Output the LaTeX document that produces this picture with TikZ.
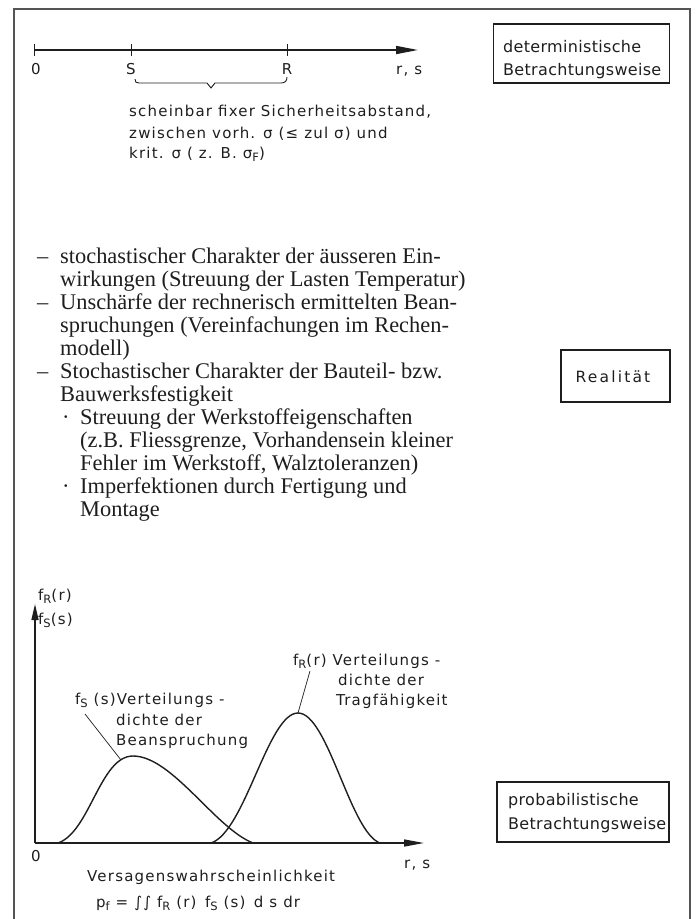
\documentclass[tikz,border=0pt]{standalone}
\usepackage{fontspec}
\setmainfont{Liberation Serif}
\newfontfamily\din[LetterSpace=8]{DejaVu Sans}
\newfontfamily\dinbox[LetterSpace=2]{DejaVu Sans}
\newfontfamily\dinwide[LetterSpace=14]{DejaVu Sans}
\usetikzlibrary{arrows.meta}
\definecolor{ink}{HTML}{1E1E1E}
\definecolor{framec}{HTML}{555555}
\newcommand\dsub[1]{\raisebox{-0.45ex}{\fontsize{11.5}{11.5}\selectfont #1}}
\begin{document}
\begin{tikzpicture}[x=1pt,y=-1pt,
  lbl/.style={inner sep=0pt, anchor=base west, text=ink, font=\din\fontsize{15}{18}\selectfont},
  clbl/.style={lbl, anchor=base},
  btxt/.style={inner sep=0pt, anchor=base west, text=ink, font=\dinbox\fontsize{16}{19}\selectfont},
  ser/.style={inner sep=0pt, anchor=base west, text=ink, font=\fontsize{22.4}{23}\selectfont},
  bx/.style={draw=ink, line width=1.1pt, inner sep=0pt},
  outer/.style={draw=framec, line width=1.3pt},
  axis/.style={draw=ink, line width=1.6pt},
  tick/.style={draw=ink, line width=1pt},
  curve/.style={draw=ink, line width=1.4pt},
  leader/.style={draw=ink, line width=0.7pt},
  thin/.style={draw=ink, line width=0.9pt}]
\useasboundingbox (0,0) rectangle (696,919);
% outer frame (open at the bottom)
\draw[outer] (14,919) -- (14,9) -- (690,9) -- (690,919);

% ---------- deterministic part ----------
\coordinate (o1) at (34,50);
\coordinate (e1) at (418,50);
\draw[axis, -{Triangle[length=22pt,width=8pt]}] (o1) -- (e1);
\draw[tick] (34,44) -- (34,56);
\draw[tick] (131,44) -- (131,56);
\draw[tick] (287,44) -- (287,56);
\node[clbl] (l0) at (36,74) {0};
\node[clbl] (lS) at (131,74) {S};
\node[clbl] (lR) at (287,74) {R};
\node[lbl] (lrs) at (396,74) {r, s};
% brace
\draw[thin] (135,79) .. controls (135,82) and (136,83) .. (139,83) -- (207,83) -- (211,88) -- (215,83) -- (281,83) .. controls (285,83) and (287,81) .. (287,77);
\node[lbl] (n1) at (129,116) {scheinbar fixer Sicherheitsabstand,};
\node[lbl] (n2) at (129,138) {zwischen vorh. σ (≤ zul σ) und};
\node[lbl] (n3) at (129,158) {krit. σ ( z. B. σ\dsub{F})};

\node[bx, minimum width=176pt, minimum height=59pt] (detbox) at (581.5,53.5) {};
\node[btxt] (det1) at (503,52) {deterministische};
\node[btxt] (det2) at (503,75) {Betrachtungsweise};

% ---------- reality ----------
\node[ser] (d1) at (37,263) {–};
\node[ser] (t1) at (60,263) {stochastischer Charakter der äusseren Ein-};
\node[ser] (t2) at (60,286) {wirkungen (Streuung der Lasten Temperatur)};
\node[ser] (d2) at (37,309) {–};
\node[ser] (t3) at (60,309) {Unschärfe der rechnerisch ermittelten Bean-};
\node[ser] (t4) at (60,332) {spruchungen (Vereinfachungen im Rechen-};
\node[ser] (t5) at (60,355) {modell)};
\node[ser] (d3) at (37,378) {–};
\node[ser] (t6) at (60,378) {Stochastischer Charakter der Bauteil- bzw.};
\node[ser] (t7) at (60,401) {Bauwerksfestigkeit};
\node[ser] (b1) at (62,424) {·};
\node[ser] (t8) at (80,424) {Streuung der Werkstoffeigenschaften};
\node[ser] (t9) at (80,447) {(z.B. Fliessgrenze, Vorhandensein kleiner};
\node[ser] (t10) at (80,470) {Fehler im Werkstoff, Walztoleranzen)};
\node[ser] (b2) at (62,493) {·};
\node[ser] (t11) at (80,493) {Imperfektionen durch Fertigung und};
\node[ser] (t12) at (80,516) {Montage};

\node[bx, minimum width=109pt, minimum height=52pt] (realbox) at (615.5,376) {};
\node[inner sep=0pt, anchor=base, text=ink, font=\dinwide\fontsize{15.5}{18}\selectfont] (real) at (613,382) {Realität};

% ---------- probabilistic part ----------
\coordinate (o2) at (35,843);
\coordinate (ytip) at (35,604);
\coordinate (xtip) at (424,843);
\draw[axis, line width=1.4pt, -{Triangle[length=16pt,width=7pt]}] (o2) -- (ytip);
\draw[axis, line width=1.4pt, -{Triangle[length=20pt,width=7pt]}] (o2) -- (xtip);
\node[lbl] (fr) at (38,600) {f\dsub{R}(r)};
\node[lbl] (fs) at (38,624) {f\dsub{S}(s)};
\node[clbl] (l00) at (36,861) {0};
\node[lbl] (lrs2) at (404,868) {r, s};

% S curve
\coordinate (s0) at (58,843);
\coordinate (spk) at (133,756);
\coordinate (s1) at (253,843);
\draw[curve] (s0) .. controls (90,832) and (100,756) .. (spk) .. controls (172,756) and (215,828) .. (s1);
% R curve
\coordinate (r0) at (211,843);
\coordinate (rpk) at (298,713);
\coordinate (r1) at (380,843);
\draw[curve] (r0) .. controls (245,832) and (268,713) .. (rpk) .. controls (328,713) and (350,832) .. (r1);

\node[lbl] (fsl1) at (75,704) {f\dsub{S} (s)Verteilungs -};
\node[lbl] (fsl2) at (116,725) {dichte der};
\node[lbl] (fsl3) at (116,745) {Beanspruchung};
\node[lbl] (frl1) at (293,665) {f\dsub{R}(r) Verteilungs -};
\node[lbl] (frl2) at (338,685) {dichte der};
\node[lbl] (frl3) at (336,705) {Tragfähigkeit};
\coordinate (sl) at (121,760);
\coordinate (slt) at (85,714);
\coordinate (rlt) at (310,671);
\draw[leader] (slt) -- (sl);
\draw[leader] (rlt) -- (rpk);

\node[lbl] (vers) at (87,881) {Versagenswahrscheinlichkeit};
\node[lbl] (pf) at (96,907) {p\dsub{f} = ∫∫ f\dsub{R} (r)\, f\dsub{S} (s)\, d s dr};

\node[bx, minimum width=172pt, minimum height=60pt] (probox) at (583,812) {};
\node[btxt] (pro1) at (508,805) {probabilistische};
\node[btxt] (pro2) at (508,829) {Betrachtungsweise};
\end{tikzpicture}
\end{document}
